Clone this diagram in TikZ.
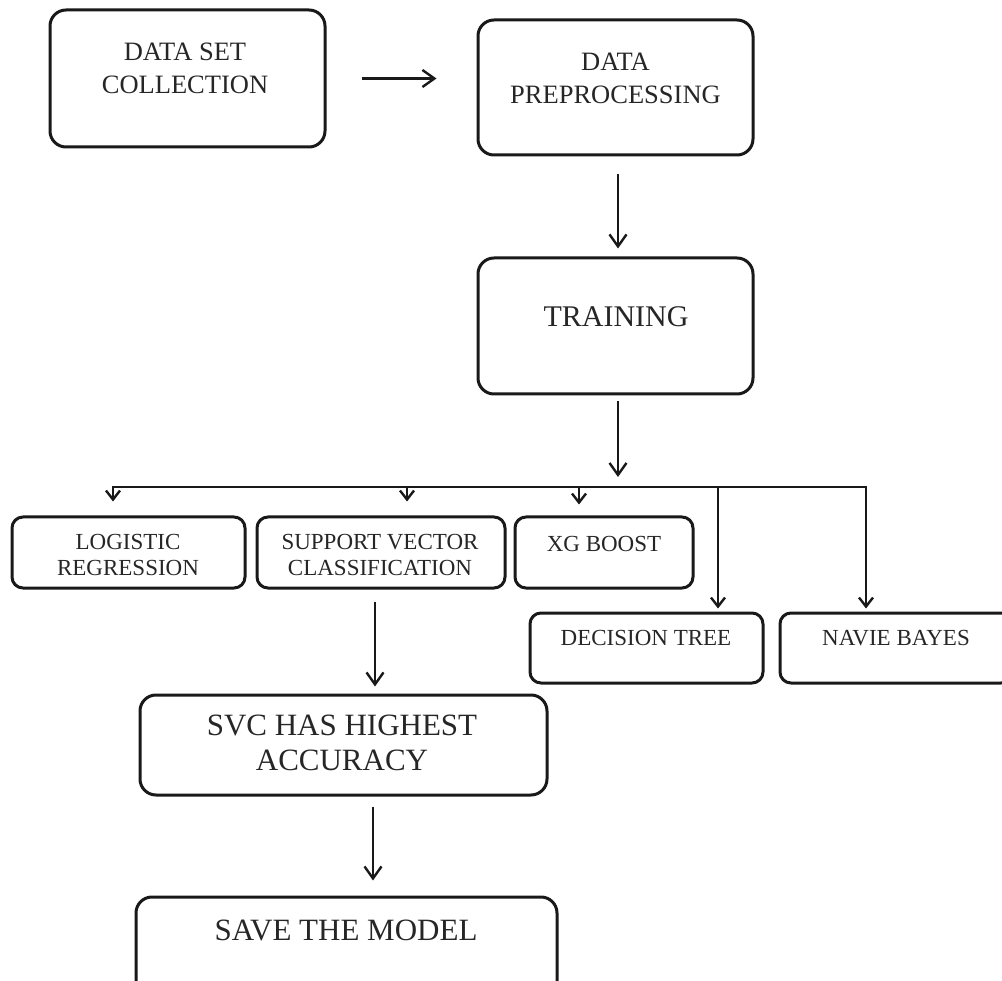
\documentclass[tikz,border=0pt]{standalone}
\usepackage{fontspec}
\setmainfont{Liberation Serif}
\usetikzlibrary{arrows.meta}
\begin{document}
\begin{tikzpicture}[x=1pt,y=-1pt,
  box/.style={draw=black!90, line width=3pt, rounded corners=16pt, inner sep=0pt},
  sbox/.style={box, rounded corners=11pt},
  txt/.style={text=black!85, align=center, inner sep=0pt},
  bigf/.style={font=\fontsize{26.5}{33}\selectfont},
  smallf/.style={font=\fontsize{23}{26}\selectfont},
  hugef/.style={font=\fontsize{31}{35}\selectfont},
  arr/.style={draw=black!90, line width=2.4pt, -{Straight Barb[length=12pt,width=17pt]}},
  sarr/.style={draw=black!90, line width=2.4pt, -{Straight Barb[length=9pt,width=14pt]}},
  ln/.style={draw=black!90, line width=2.4pt},
]
\useasboundingbox (0,0) rectangle (1002,981);

% boxes
\node[box, minimum width=275pt, minimum height=137pt] (dsc) at (187.5,78.5) {};
\node[box, minimum width=275pt, minimum height=135pt] (dp) at (615.5,87.5) {};
\node[box, minimum width=275pt, minimum height=136pt] (tr) at (615.5,326) {};
\node[sbox, minimum width=233pt, minimum height=71pt] (lr) at (128.5,552.5) {};
\node[sbox, minimum width=248pt, minimum height=71pt] (svc) at (381,552.5) {};
\node[sbox, minimum width=178pt, minimum height=71pt] (xg) at (604,552.5) {};
\node[sbox, minimum width=233pt, minimum height=70pt] (dt) at (646.5,648) {};
\node[sbox, minimum width=232pt, minimum height=70pt] (nb) at (896,648) {};
\node[box, minimum width=407pt, minimum height=100pt] (svh) at (343.5,745) {};
\node[box, minimum width=421pt, minimum height=110pt] (save) at (346.5,952) {};

% texts
\node[txt, bigf] (dsct) at (185,68.5) {DATA SET\\COLLECTION};
\node[txt, bigf] (dpt) at (615.5,78.5) {DATA\\PREPROCESSING};
\node[txt, font=\fontsize{30}{34}\selectfont] (trt) at (616,317) {TRAINING};
\node[txt, smallf] (lrt) at (128,555) {LOGISTIC\\REGRESSION};
\node[txt, smallf] (svct) at (380,555) {SUPPORT VECTOR\\CLASSIFICATION};
\node[txt, smallf] (xgt) at (604,544) {XG BOOST};
\node[txt, smallf] (dtt) at (646,638) {DECISION TREE};
\node[txt, smallf] (nbt) at (896,638) {NAVIE BAYES};
\node[txt, hugef] (svht) at (342,742.5) {SVC HAS HIGHEST\\ACCURACY};
\node[txt, hugef] (savet) at (346,930) {SAVE THE MODEL};

% connectors
\coordinate (ax1) at (618,0);
\coordinate (ax2) at (375,0);
\coordinate (ax3) at (373,0);
\coordinate (split) at (618,477);
\coordinate (hl) at (113,487);
\coordinate (hr) at (866,487);
\coordinate (d2) at (407,487);
\coordinate (d3) at (579,487);
\coordinate (d4) at (718,487);

\draw[arr, shorten <=35pt, shorten >=40pt] (dsc.east) -- (dp.west |- dsc.east);
\draw[arr, shorten <=18pt, shorten >=8pt] (dp.south -| ax1) -- (tr.north -| ax1);
\draw[arr, shorten <=6pt] (tr.south -| ax1) -- (split);

\draw[sarr, shorten >=14pt] (ax1 |- hl) -- (hl) -- (hl |- lr.north);
\draw[sarr, shorten >=3pt] (ax1 |- hl) -- (hr) -- (hr |- nb.north);
\draw[sarr, shorten >=14pt] (d2) -- (d2 |- svc.north);
\draw[sarr, shorten >=11pt] (d3) -- (d3 |- xg.north);
\draw[sarr, shorten >=3pt] (d4) -- (d4 |- dt.north);

\draw[arr, shorten <=12pt, shorten >=7pt] (svc.south -| ax2) -- (svh.north -| ax2);
\draw[arr, shorten <=10pt, shorten >=15pt] (svh.south -| ax3) -- (save.north -| ax3);
\end{tikzpicture}
\end{document}
